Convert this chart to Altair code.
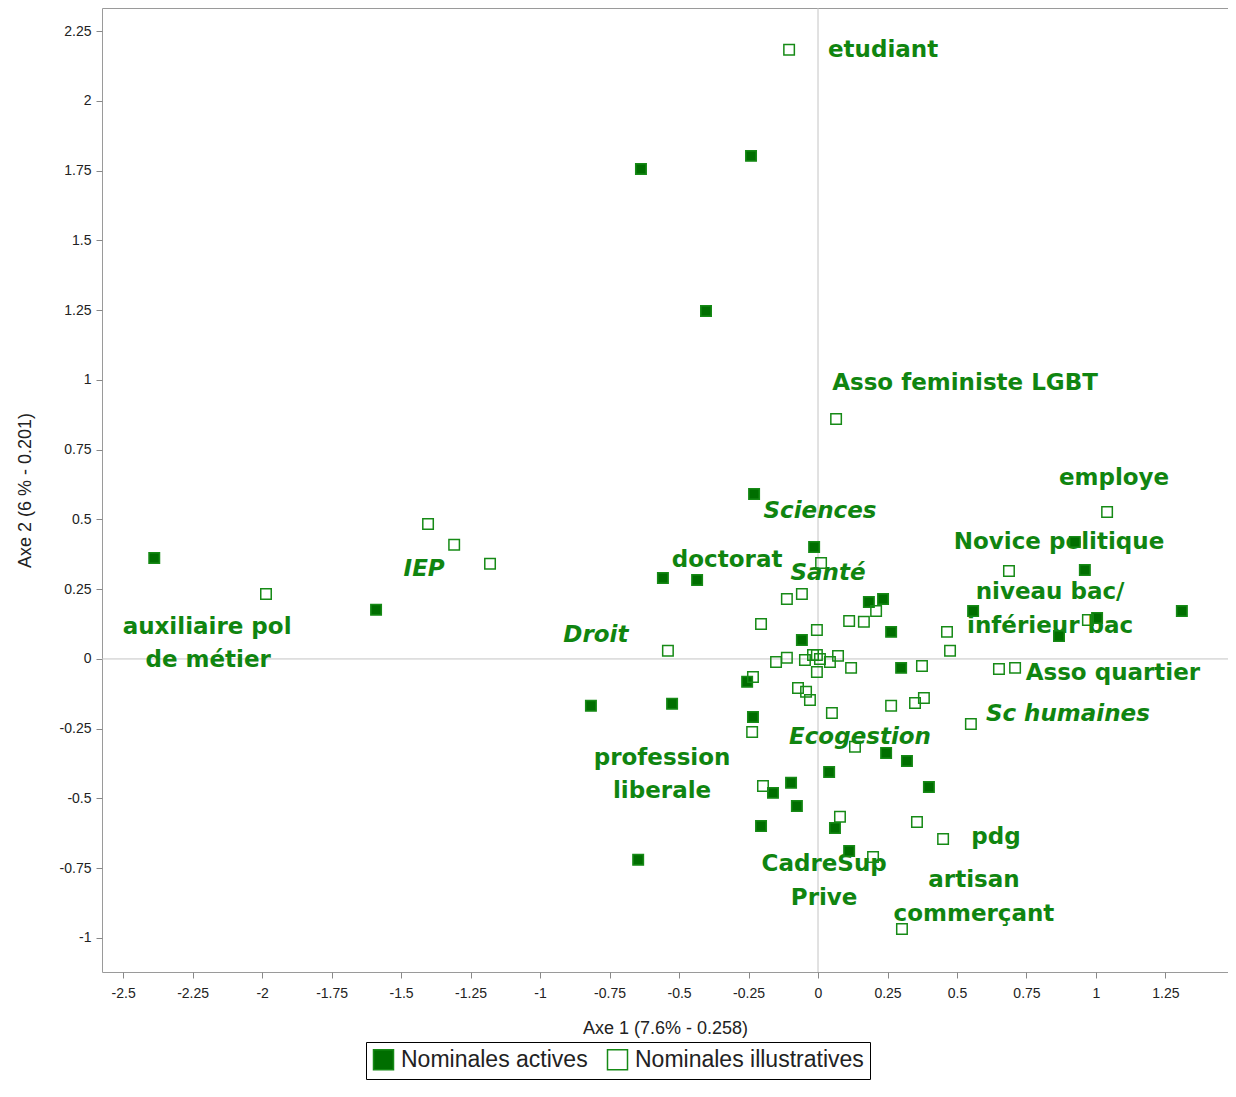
import altair as alt
import pandas as pd

GREEN = "#006e00"
EDGE = "#168a16"
TEXT_GREEN = "#108510"

# Nominales actives (filled squares)
act_x = [-2.388, -1.590, -0.637, -0.241, -0.403, -0.230, -0.014, -0.558, -0.435, -0.817,
         -0.525, -0.647, -0.255, -0.234, -0.058, 0.183, 0.234, 0.263, 0.299, 0.245,
         0.320, 0.040, 0.399, -0.097, -0.162, -0.076, -0.205, 0.061, 0.112, 0.558,
         0.924, 0.960, 0.867, 1.004, 1.309]
act_y = [0.362, 0.176, 1.756, 1.803, 1.247, 0.591, 0.401, 0.290, 0.283, -0.168,
         -0.161, -0.720, -0.082, -0.208, 0.068, 0.204, 0.215, 0.097, -0.032, -0.337,
         -0.366, -0.405, -0.459, -0.444, -0.480, -0.527, -0.599, -0.606, -0.688, 0.172,
         0.419, 0.319, 0.082, 0.147, 0.172]

# Nominales illustratives (hollow squares)
ill_x = [-0.104, 0.065, 1.040, -1.403, -1.309, -1.180, -1.986, -0.540, 0.011, -0.112,
         -0.058, 0.209, 0.165, 0.112, -0.205, 0.464, 0.475, -0.004, -0.151, -0.112,
         -0.047, -0.018, -0.004, 0.007, 0.043, 0.072, 0.119, -0.004, 0.374, -0.234,
         -0.072, -0.043, -0.029, 0.263, 0.349, 0.381, 0.050, -0.237, 0.550, 0.133,
         -0.198, 0.079, 0.356, 0.450, 0.198, 0.302, 0.687, 0.651, 0.709, 0.971]
ill_y = [2.183, 0.860, 0.527, 0.484, 0.409, 0.341, 0.233, 0.029, 0.344, 0.215,
         0.233, 0.172, 0.133, 0.136, 0.125, 0.097, 0.029, 0.104, -0.011, 0.004,
         -0.004, 0.014, 0.014, 0.000, -0.011, 0.011, -0.032, -0.047, -0.025, -0.065,
         -0.104, -0.118, -0.147, -0.168, -0.158, -0.140, -0.194, -0.262, -0.233, -0.315,
         -0.455, -0.566, -0.584, -0.645, -0.710, -0.968, 0.315, -0.036, -0.032, 0.140]

# Labels (one row per text line)
lab_text = ["etudiant", "Asso feministe LGBT", "employe", "Sciences", "Novice politique",
            "doctorat", "Santé", "niveau bac/", "inférieur bac", "IEP",
            "auxiliaire pol", "de métier", "Droit", "Asso quartier", "Sc humaines",
            "Ecogestion", "profession", "liberale", "pdg", "CadreSup",
            "Prive", "artisan", "commerçant"]
lab_x = [0.234, 0.529, 1.065, 0.007, 0.867,
         -0.327, 0.036, 0.835, 0.835, -1.417,
         -2.198, -2.194, -0.799, 1.061, 0.899,
         0.151, -0.561, -0.561, 0.640, 0.022,
         0.022, 0.561, 0.561]
lab_y = [2.183, 0.989, 0.649, 0.530, 0.419,
         0.355, 0.308, 0.240, 0.118, 0.323,
         0.115, -0.004, 0.086, -0.050, -0.197,
         -0.280, -0.355, -0.473, -0.638, -0.735,
         -0.857, -0.792, -0.914]
lab_italic = [False, False, False, True, False,
              False, True, False, False, True,
              False, False, True, False, True,
              True, False, False, False, False,
              False, False, False]

x_ticks = [-2.5, -2.25, -2, -1.75, -1.5, -1.25, -1, -0.75, -0.5, -0.25, 0, 0.25, 0.5, 0.75, 1, 1.25]
y_ticks = [-1, -0.75, -0.5, -0.25, 0, 0.25, 0.5, 0.75, 1, 1.25, 1.5, 1.75, 2, 2.25]
types = ["Nominales actives", "Nominales illustratives"]

pts = pd.DataFrame({
    "x": act_x + ill_x,
    "y": act_y + ill_y,
    "type": [types[0]] * len(act_x) + [types[1]] * len(ill_x),
})
labels = pd.DataFrame({"label": lab_text, "x": lab_x, "y": lab_y, "italic": lab_italic})
zero = pd.DataFrame({"z": [0.0]})

xscale = alt.Scale(domain=[-2.576, 1.475], nice=False, zero=False)
yscale = alt.Scale(domain=[-1.122, 2.333], nice=False, zero=False)

xaxis = alt.Axis(title="Axe 1 (7.6% - 0.258)", values=x_ticks, labelExpr="toString(datum.value)",
                 grid=False, domain=False, tickSize=6, tickColor="#888888",
                 labelFont="Liberation Sans", labelFontSize=14, labelColor="#222222",
                 labelPadding=8, labelFlush=False, labelOverlap=False,
                 titleFont="Liberation Sans", titleFontSize=18, titleFontWeight="normal",
                 titleColor="#222222", titlePadding=19)
yaxis = alt.Axis(title="Axe 2 (6 % - 0.201)", values=y_ticks, labelExpr="toString(datum.value)",
                 grid=False, domain=False, tickSize=6, tickColor="#888888",
                 labelFont="Liberation Sans", labelFontSize=14, labelColor="#222222",
                 labelPadding=5, labelFlush=False, labelOverlap=False,
                 titleFont="Liberation Sans", titleFontSize=18, titleFontWeight="normal",
                 titleColor="#222222", titlePadding=25)

X = lambda f: alt.X(f, type="quantitative", scale=xscale, axis=xaxis)
Y = lambda f: alt.Y(f, type="quantitative", scale=yscale, axis=yaxis)

vrule = alt.Chart(zero).mark_rule(color="#c4c4c4", strokeWidth=1).encode(x=X("z"))
hrule = alt.Chart(zero).mark_rule(color="#c4c4c4", strokeWidth=1).encode(y=Y("z"))

text_normal = alt.Chart(labels).transform_filter("!datum.italic").mark_text(
    font="DejaVu Sans", fontSize=23, fontWeight="bold", color=TEXT_GREEN,
    align="center", baseline="middle").encode(x=X("x"), y=Y("y"), text="label:N")
text_italic = alt.Chart(labels).transform_filter("datum.italic").mark_text(
    font="DejaVu Sans", fontSize=23, fontWeight="bold", fontStyle="italic", color=TEXT_GREEN,
    align="center", baseline="middle").encode(x=X("x"), y=Y("y"), text="label:N")

points = alt.Chart(pts).mark_square(size=110, stroke=EDGE, strokeWidth=1.5, opacity=1).encode(
    x=X("x"), y=Y("y"),
    fill=alt.Fill("type:N", scale=alt.Scale(domain=types, range=[GREEN, "transparent"]),
                  legend=alt.Legend(title=None, orient="none", legendX=264, legendY=1034,
                                    direction="horizontal", strokeColor="#000000", fillColor="#ffffff",
                                    padding=6, symbolType="square", symbolSize=400,
                                    symbolStrokeColor=EDGE, symbolStrokeWidth=1.5,
                                    labelFont="Liberation Sans", labelFontSize=23, labelLimit=400,
                                    labelColor="#222222", labelOffset=6, columnPadding=16)),
)

chart = alt.layer(vrule, hrule, text_normal, text_italic, points).properties(
    width=1126, height=964,
    padding={"left": 94, "top": 0, "right": 0, "bottom": 116},
    autosize=alt.AutoSizeParams(type="none"),
).configure_view(stroke="#9a9a9a", strokeWidth=1)

chart.save("out.html", embed_options={"renderer": "svg", "actions": False})
